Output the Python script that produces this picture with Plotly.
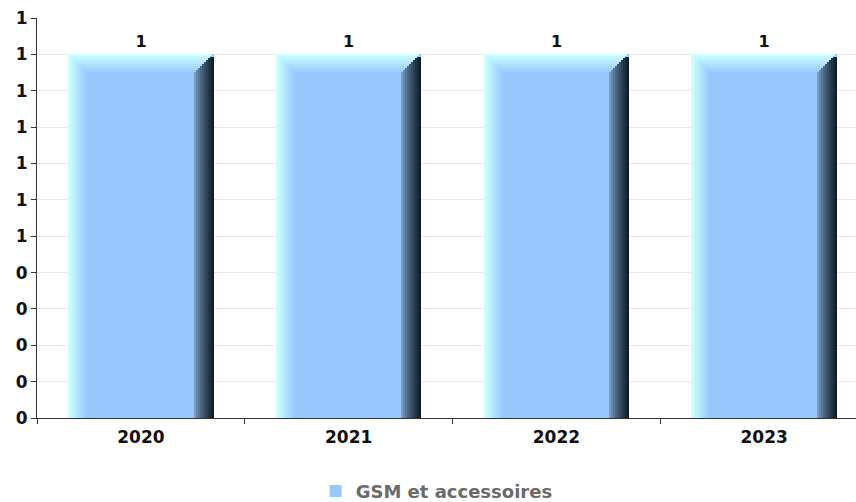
import plotly.graph_objects as go

# ---- data ----
categories = ["2020", "2021", "2022", "2023"]
values = [1, 1, 1, 1]
series_name = "GSM et accessoires"
y_tick_vals = [0, 0.1, 0.2, 0.3, 0.4, 0.5, 0.6, 0.7, 0.8, 0.9, 1.0, 1.1]
y_tick_text = ["0", "0", "0", "0", "0", "1", "1", "1", "1", "1", "1", "1"]

# ---- style ----
FRONT = (0x96, 0xc8, 0xfd)
LIGHT = (0xcc, 0xff, 0xff)
DARK_L = (0x78, 0x9c, 0xc4)
DARK_R = (0x14, 0x1c, 0x28)
BAR_W = 0.7
PX_X = 1 / 208.0          # category units per pixel
PX_Y = 1.1 / 400.0        # value units per pixel
N = 10                    # slices per bevel
STRIP_PX = 20


def mix(a, b, t):
    return "rgb(%d,%d,%d)" % tuple(round(a[k] + (b[k] - a[k]) * t) for k in range(3))


fig = go.Figure()

# front face (legend + labels)
fig.add_trace(go.Bar(
    x=categories, y=values, name=series_name, width=BAR_W, offset=-BAR_W / 2,
    marker=dict(color=mix(FRONT, FRONT, 0), line=dict(width=0)),
    text=values, texttemplate="%{y:.0f}", textposition="outside",
    textfont=dict(family="DejaVu Sans", size=16, color="#111111", weight="bold"),
    cliponaxis=False, showlegend=True, hoverinfo="x+y",
))

sw = STRIP_PX * PX_X / N
# left bevel
for i in range(N):
    fig.add_trace(go.Bar(
        x=categories, y=values, width=sw * 1.05, offset=-BAR_W / 2 + i * sw,
        marker=dict(color=mix(LIGHT, FRONT, i / (N - 1)), line=dict(width=0)),
        showlegend=False, hoverinfo="skip",
    ))
# right bevel
top_gap = 3 * PX_Y
for i in range(N):
    fig.add_trace(go.Bar(
        x=categories, y=[v - top_gap for v in values], width=sw * 1.05,
        offset=BAR_W / 2 - STRIP_PX * PX_X + i * sw,
        marker=dict(color=mix(DARK_L, DARK_R, (i / (N - 1)) ** 0.8), line=dict(width=0)),
        showlegend=False, hoverinfo="skip",
    ))
# top bevel (mitred slices)
sh = STRIP_PX * PX_Y / N
step_x = STRIP_PX * PX_X / N
for i in range(N):
    left = -BAR_W / 2 + i * step_x
    right = BAR_W / 2 - 2 * PX_X - i * step_x
    fig.add_trace(go.Bar(
        x=categories, y=[sh * 1.05] * len(values),
        base=[v - (i + 1) * sh for v in values],
        width=right - left, offset=left,
        marker=dict(color=mix(LIGHT, FRONT, i / (N - 1)), line=dict(width=0)),
        showlegend=False, hoverinfo="skip",
    ))

fig.update_layout(
    width=856, height=502,
    margin=dict(l=37, r=0, t=18, b=84, autoexpand=False),
    paper_bgcolor="white", plot_bgcolor="white",
    barmode="overlay", bargap=0,
    font=dict(family="DejaVu Sans", size=16, color="#111111"),
    showlegend=True,
    legend=dict(
        orientation="h", x=0.488, xanchor="center", y=-0.183, yanchor="middle",
        font=dict(family="DejaVu Sans", size=18, color="#6a6a6a", weight="bold"),
        itemwidth=30,
    ),
    xaxis=dict(
        type="category", range=[-0.5, 3.442], automargin=False,
        showline=True, linecolor="#333333", linewidth=1,
        ticks="outside", ticklen=5, tickcolor="#333333", tickson="boundaries",
        showgrid=False, layer="below traces", ticklabelstandoff=4,
        tickfont=dict(family="DejaVu Sans", size=17, color="#111111", weight="bold"),
    ),
    yaxis=dict(
        range=[0, 1.1], tickvals=y_tick_vals, ticktext=y_tick_text, automargin=False,
        showline=True, linecolor="#333333", linewidth=1,
        ticks="outside", ticklen=5, tickcolor="#333333",
        showgrid=True, gridcolor="#e8e8e8", gridwidth=1, zeroline=False,
        tickfont=dict(family="DejaVu Sans", size=17, color="#111111", weight="bold"),
    ),
)

fig.write_html(
    "out.html",
    config={"displayModeBar": False},
    post_script="document.body.style.margin='0';document.body.style.overflow='hidden';",
)
